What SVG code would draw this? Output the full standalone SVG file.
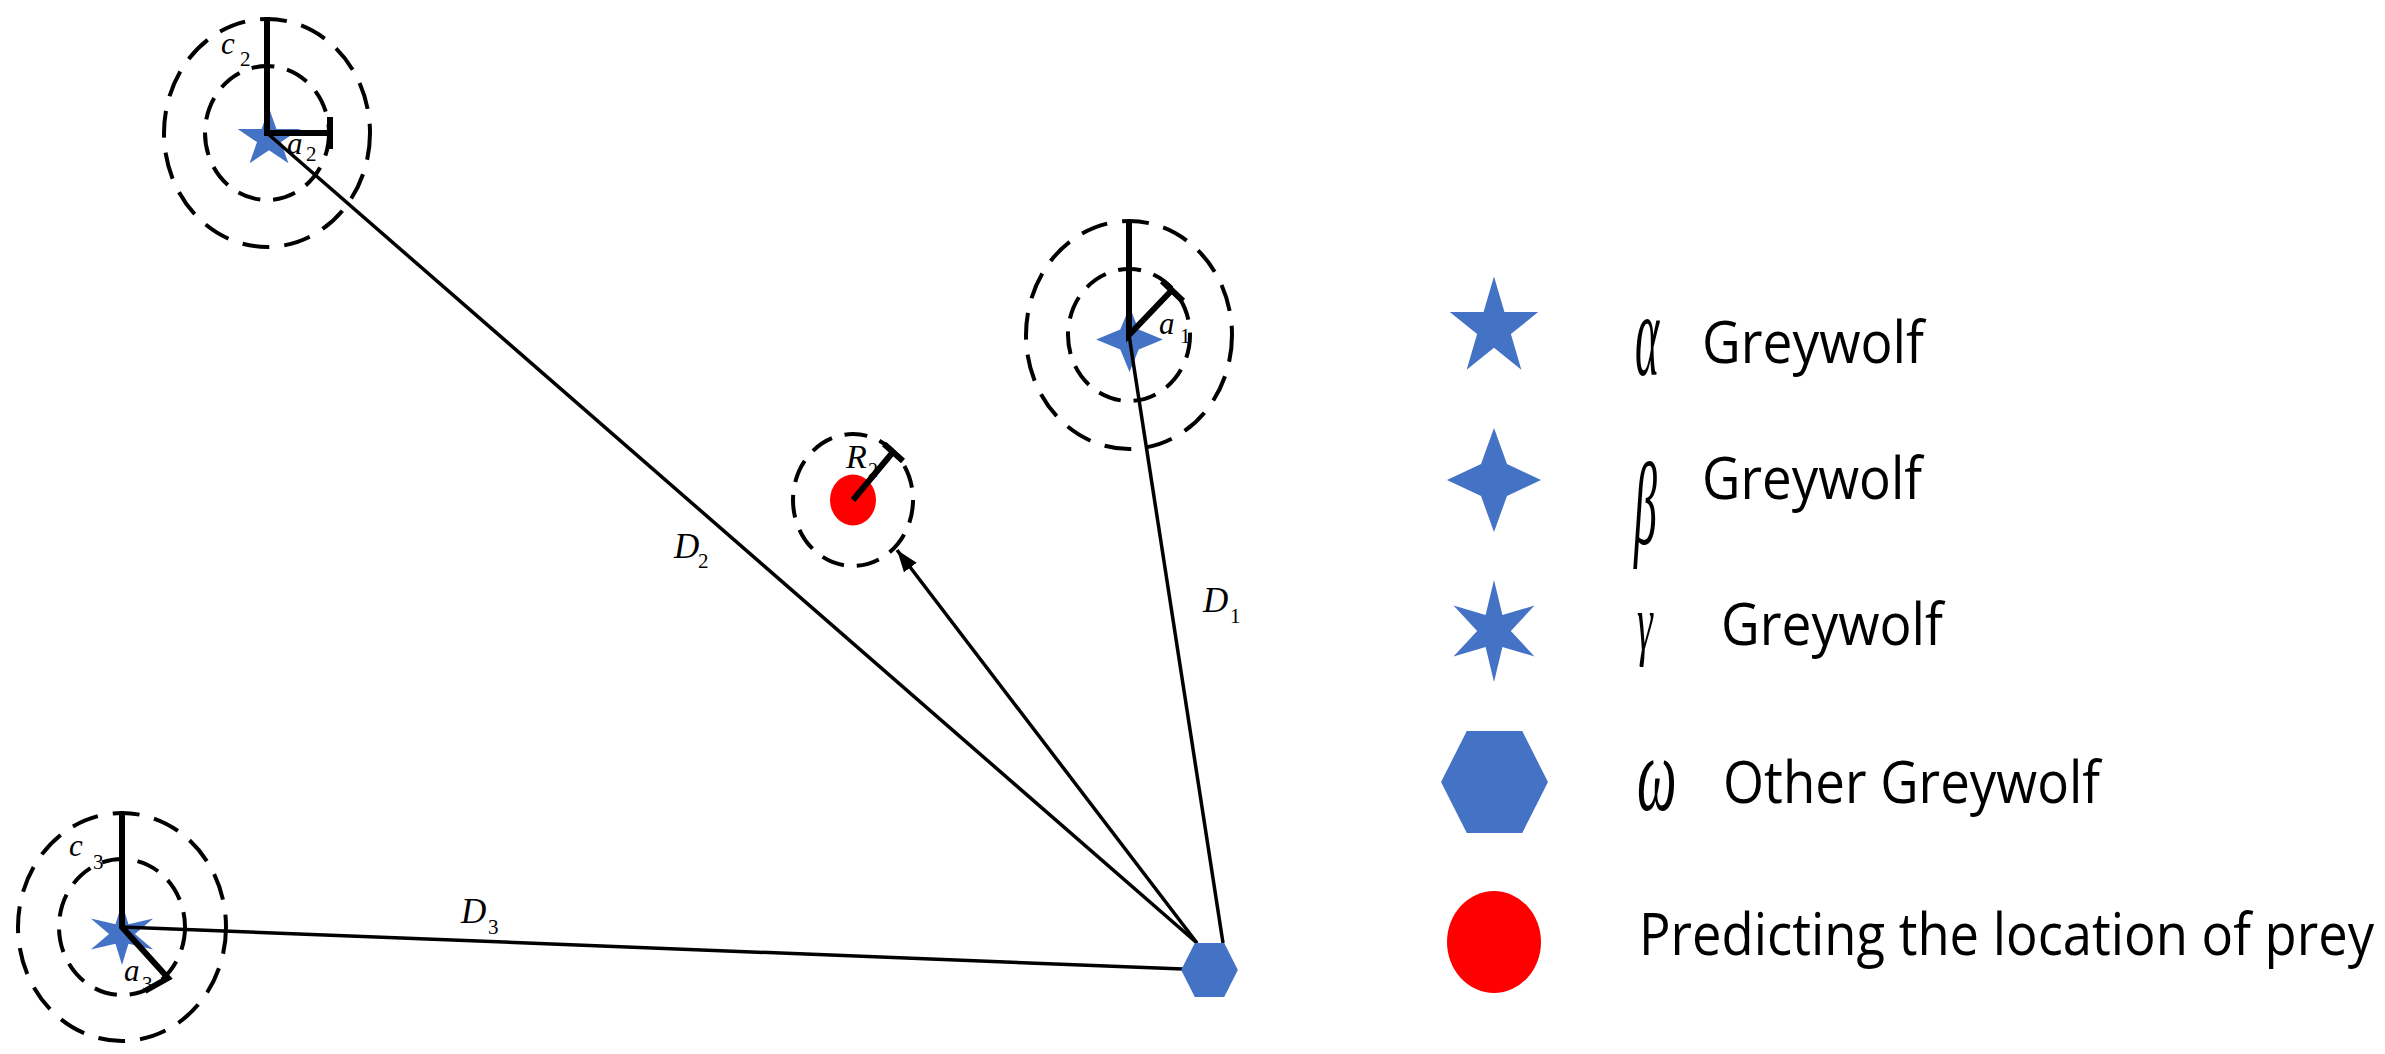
<svg xmlns="http://www.w3.org/2000/svg" width="2385" height="1054" viewBox="0 0 2385 1054">
<style>
.outer{fill:none;stroke:#000;stroke-width:4;stroke-dasharray:27 15}
.inner{fill:none;stroke:#000;stroke-width:4;stroke-dasharray:23 13}
.rad{fill:none;stroke:#000;stroke-width:6;stroke-linecap:butt}
.conn{fill:none;stroke:#000;stroke-width:3.5}
.blue{fill:#4472C4}
.red{fill:#FF0000}
.lbl{font-family:"Liberation Serif",serif;font-style:italic;fill:#000}
.sub{font-family:"Liberation Serif",serif;fill:#000}
.leg{font-family:"Open Sans","Noto Sans",sans-serif;fill:#000;font-size:59px}
.greek{font-family:"Liberation Serif",serif;font-style:italic;fill:#000}
</style>
<defs>
<polygon id="star5" points="0,-50 11.23,-15.45 47.55,-15.45 18.17,5.9 29.39,40.45 0,19.1 -29.39,40.45 -18.17,5.9 -47.55,-15.45 -11.23,-15.45"/>
<polygon id="star4" points="0,-52 13,-16 47,0 13,16 0,52 -13,16 -47,0 -13,-16"/>
<polygon id="star6" points="0,-50 9,-15.6 43.3,-25 18,0 43.3,25 9,15.6 0,50 -9,15.6 -43.3,25 -18,0 -43.3,-25 -9,-15.6"/>
<polygon id="hex" points="-14,-26 14,-26 27,0 14,26 -14,26 -27,0"/>
<marker id="arr" markerUnits="userSpaceOnUse" markerWidth="24" markerHeight="16" refX="22" refY="8" orient="auto">
<path d="M0,0 L22,8 L0,16 Z" fill="#000"/>
</marker>
</defs>

<g id="wolf-alpha">
<ellipse class="outer" cx="267" cy="133" rx="103" ry="114"/>
<ellipse class="inner" cx="267" cy="133" rx="62" ry="67"/>
<use href="#star5" class="blue" transform="translate(269,138.5) scale(0.66,0.61)"/>
<path class="rad" d="M267,17 L267,133 L330,133 M330,117 L330,149"/>
<text class="lbl" x="221" y="54" font-size="31">c</text>
<text class="sub" x="240" y="66" font-size="21">2</text>
<text class="lbl" x="287" y="154" font-size="31">a</text>
<text class="sub" x="306" y="161" font-size="21">2</text>
</g>

<g id="wolf-beta">
<ellipse class="outer" cx="1129" cy="335" rx="103" ry="114"/>
<ellipse class="inner" cx="1129" cy="335" rx="61" ry="66"/>
<use href="#star4" class="blue" transform="translate(1129.5,339.5) scale(0.71,0.625)"/>
<path class="rad" d="M1129,221 L1129,335 L1172,290 M1162,281 L1183,301"/>
<text class="lbl" x="1159" y="334" font-size="31">a</text>
<text class="sub" x="1180" y="343" font-size="21">1</text>
</g>

<g id="wolf-gamma">
<ellipse class="outer" cx="122" cy="927" rx="104" ry="114"/>
<ellipse class="inner" cx="122" cy="927" rx="63" ry="68"/>
<use href="#star6" class="blue" transform="translate(122,934) scale(0.72,0.62)"/>
<path class="rad" d="M122,813 L122,927 L168,978 L145,991"/>
<text class="lbl" x="69" y="856" font-size="31">c</text>
<text class="sub" x="93" y="869" font-size="21">3</text>
<text class="lbl" x="124" y="981" font-size="31">a</text>
<text class="sub" x="142" y="991" font-size="21">3</text>
</g>

<g id="prey">
<ellipse class="inner" cx="853" cy="500" rx="60" ry="66"/>
<ellipse class="red" cx="853" cy="500" rx="23" ry="25.5"/>
<text class="lbl" x="846" y="468" font-size="34">R</text>
<text class="sub" x="868" y="477" font-size="20">2</text>
<path class="rad" d="M853,500 L893,452 M884,444 L903,461" stroke-linecap="round"/>
</g>

<g id="connectors">
<line class="conn" x1="267" y1="133" x2="1197" y2="943"/>
<line class="conn" x1="1129" y1="335" x2="1223" y2="943"/>
<line class="conn" x1="122" y1="927" x2="1183" y2="969"/>
<line class="conn" x1="1197" y1="943" x2="897" y2="550" marker-end="url(#arr)"/>
<text class="lbl" x="674" y="558" font-size="35">D</text>
<text class="sub" x="698" y="568" font-size="21">2</text>
<text class="lbl" x="1203" y="612" font-size="35">D</text>
<text class="sub" x="1230" y="623" font-size="21">1</text>
<text class="lbl" x="461" y="923" font-size="35">D</text>
<text class="sub" x="488" y="934" font-size="21">3</text>
</g>

<g id="wolf-omega">
<use href="#hex" class="blue" transform="translate(1209.5,970) scale(1.05,1.04)"/>
</g>

<g id="legend">
<g id="legend-alpha">
<use href="#star5" class="blue" transform="translate(1494,328) scale(0.93,1.03)"/>
<text class="greek" font-size="46" transform="translate(1635,375) scale(1,2.6)">α</text>
<text class="leg" x="1702" y="363" textLength="222" lengthAdjust="spacingAndGlyphs">Greywolf</text>
</g>
<g id="legend-beta">
<use href="#star4" class="blue" transform="translate(1494,480)"/>
<text class="greek" font-size="46" transform="translate(1634,544) scale(1,2.6)">β</text>
<text class="leg" x="1702" y="499" textLength="220" lengthAdjust="spacingAndGlyphs">Greywolf</text>
</g>
<g id="legend-gamma">
<use href="#star6" class="blue" transform="translate(1494,631) scale(0.935,1.02)"/>
<text class="greek" font-size="40" transform="translate(1637,650) scale(1,2)">γ</text>
<text class="leg" x="1721" y="645" textLength="222" lengthAdjust="spacingAndGlyphs">Greywolf</text>
</g>
<g id="legend-omega">
<use href="#hex" class="blue" transform="translate(1494.5,782) scale(1.98,1.96)"/>
<text class="greek" font-size="56" transform="translate(1637,810) scale(1,1.9)">ω</text>
<text class="leg" x="1723" y="803" textLength="377" lengthAdjust="spacingAndGlyphs">Other Greywolf</text>
</g>
<g id="legend-prey">
<ellipse class="red" cx="1494" cy="942" rx="47" ry="51"/>
<text class="leg" x="1639" y="955" textLength="735" lengthAdjust="spacingAndGlyphs">Predicting the location of prey</text>
</g>
</g>
</svg>
